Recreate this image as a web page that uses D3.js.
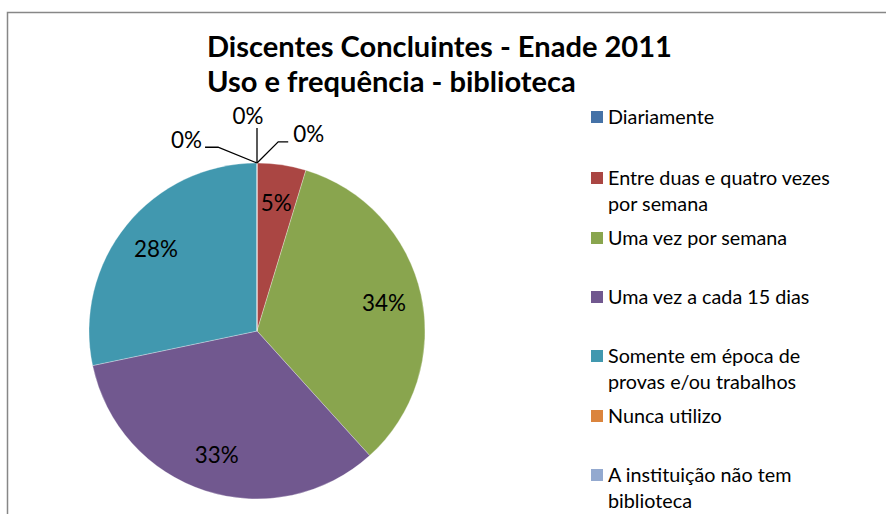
<!DOCTYPE html>
<html><head><meta charset="utf-8">
<script src="https://cdn.jsdelivr.net/npm/d3@7"></script>
<style>body{margin:0;background:#fff}svg{display:block}</style>
</head><body>
<svg id="c" width="886" height="514"></svg>
<script>
const categories = ["Diariamente","Entre duas e quatro vezes por semana","Uma vez por semana","Uma vez a cada 15 dias","Somente em época de provas e/ou trabalhos","Nunca utilizo","A instituição não tem biblioteca"];
const legendLines = [["Diariamente"],["Entre duas e quatro vezes","por semana"],["Uma vez por semana"],["Uma vez a cada 15 dias"],["Somente em época de","provas e/ou trabalhos"],["Nunca utilizo"],["A instituição não tem","biblioteca"]];
const values = [0, 4.7, 33.6, 33.4, 28.3, 0, 0];
const colors = ["#4572A7","#AA4643","#89A54E","#71588F","#4198AF","#DB843D","#93A9CF"];
const titleLines = ["Discentes Concluintes - Enade 2011","Uso e frequência - biblioteca"];

const FONT = "Lato, 'Open Sans', sans-serif";
const svg = d3.select("#c");
svg.append("rect").attr("x",7.5).attr("y",12.5).attr("width",900).attr("height",600)
  .attr("fill","#fff").attr("stroke","#878787").attr("stroke-width",1.5);

function fit(sel, w){ const L = sel.node().getComputedTextLength(); const fs = parseFloat(sel.attr("font-size")); sel.attr("font-size", fs*w/L); return fs*w/L; }

// title
const t1 = svg.append("text").attr("x",207).attr("y",57).attr("font-family",FONT).attr("font-weight","bold").attr("font-size",28).attr("fill","#000").text(titleLines[0]);
fit(t1,465);
const t2 = svg.append("text").attr("x",207).attr("y",92).attr("font-family",FONT).attr("font-weight","bold").attr("font-size",t1.attr("font-size")).attr("fill","#000").text(titleLines[1]);

// pie
const cx=257, cy=331, R=168;
const total = d3.sum(values);
const pie = d3.pie().sort(null).value(d=>d)(values);
const arc = d3.arc().innerRadius(0).outerRadius(R);
const g = svg.append("g").attr("transform",`translate(${cx},${cy})`);
g.selectAll("path").data(pie).join("path").attr("d",arc).attr("fill",(d,i)=>colors[i])
  .attr("stroke","#fff").attr("stroke-width",0.5).attr("stroke-opacity",0.6);

const fmt = v => Math.round(v/total*100)+"%";
// label font size fitted so "28%" is ~44px wide
const probe = svg.append("text").attr("font-family",FONT).attr("font-size",20).text("28%");
const LFS = fit(probe,44); probe.remove();

const labelArc = d3.arc().innerRadius(130).outerRadius(130);
pie.forEach((d,i)=>{
  if (d.value > 0) {
    const [x,y] = labelArc.centroid(d);
    g.append("text").attr("x",x).attr("y",y).attr("dy","0.36em").attr("text-anchor","middle")
      .attr("font-family",FONT).attr("font-size",LFS).attr("fill","#000").text(fmt(d.value));
  }
});
// zero-value labels with leader lines (Excel-style spreading)
const zeroIdx = pie.map((d,i)=>i).filter(i=>pie[i].value===0);
const leaderAng = {0: 45, 5: 0, 6: -68};
const leaderLen = {0: 30, 5: 35, 6: 42};
const hook = {0: 10, 5: 0, 6: -13};
zeroIdx.forEach(i=>{
  const a = pie[i].startAngle;
  const sx = Math.sin(a)*R, sy = -Math.cos(a)*R;
  const la = leaderAng[i]*Math.PI/180;
  const ex = sx + Math.sin(la)*leaderLen[i], ey = sy - Math.cos(la)*leaderLen[i];
  const hx = ex + hook[i];
  g.append("path").attr("d",`M${sx},${sy}L${ex},${ey}L${hx},${ey}`).attr("fill","none").attr("stroke","#000").attr("stroke-width",1.3);
  let tx, anchor, ty;
  if (hook[i]>0){ tx=hx+5; anchor="start"; ty=ey-8; }
  else if (hook[i]<0){ tx=hx-3; anchor="end"; ty=ey-7; }
  else { tx=ex-9; anchor="middle"; ty=ey-12; }
  g.append("text").attr("x",tx).attr("y",ty).attr("dy","0.36em").attr("text-anchor",anchor)
   .attr("font-family",FONT).attr("font-size",LFS).attr("fill","#000").text(fmt(pie[i].value));
});

// legend
const legY = [117,178,238,297,356,416,475];
const lg = svg.append("g");
let lfs = 18;
legendLines.forEach((lines,i)=>{
  lg.append("rect").attr("x",591).attr("y",legY[i]-6).attr("width",12).attr("height",12).attr("fill",colors[i]);
  lines.forEach((s,j)=>{
    const t = lg.append("text").attr("x",608).attr("y",legY[i]+j*26).attr("dy","0.36em")
      .attr("font-family",FONT).attr("font-size",lfs).attr("fill","#000").text(s);
    if (i===1 && j===0){ lfs = fit(t,222); lg.selectAll("text").attr("font-size",lfs); }
  });
});
</script>
</body></html>
